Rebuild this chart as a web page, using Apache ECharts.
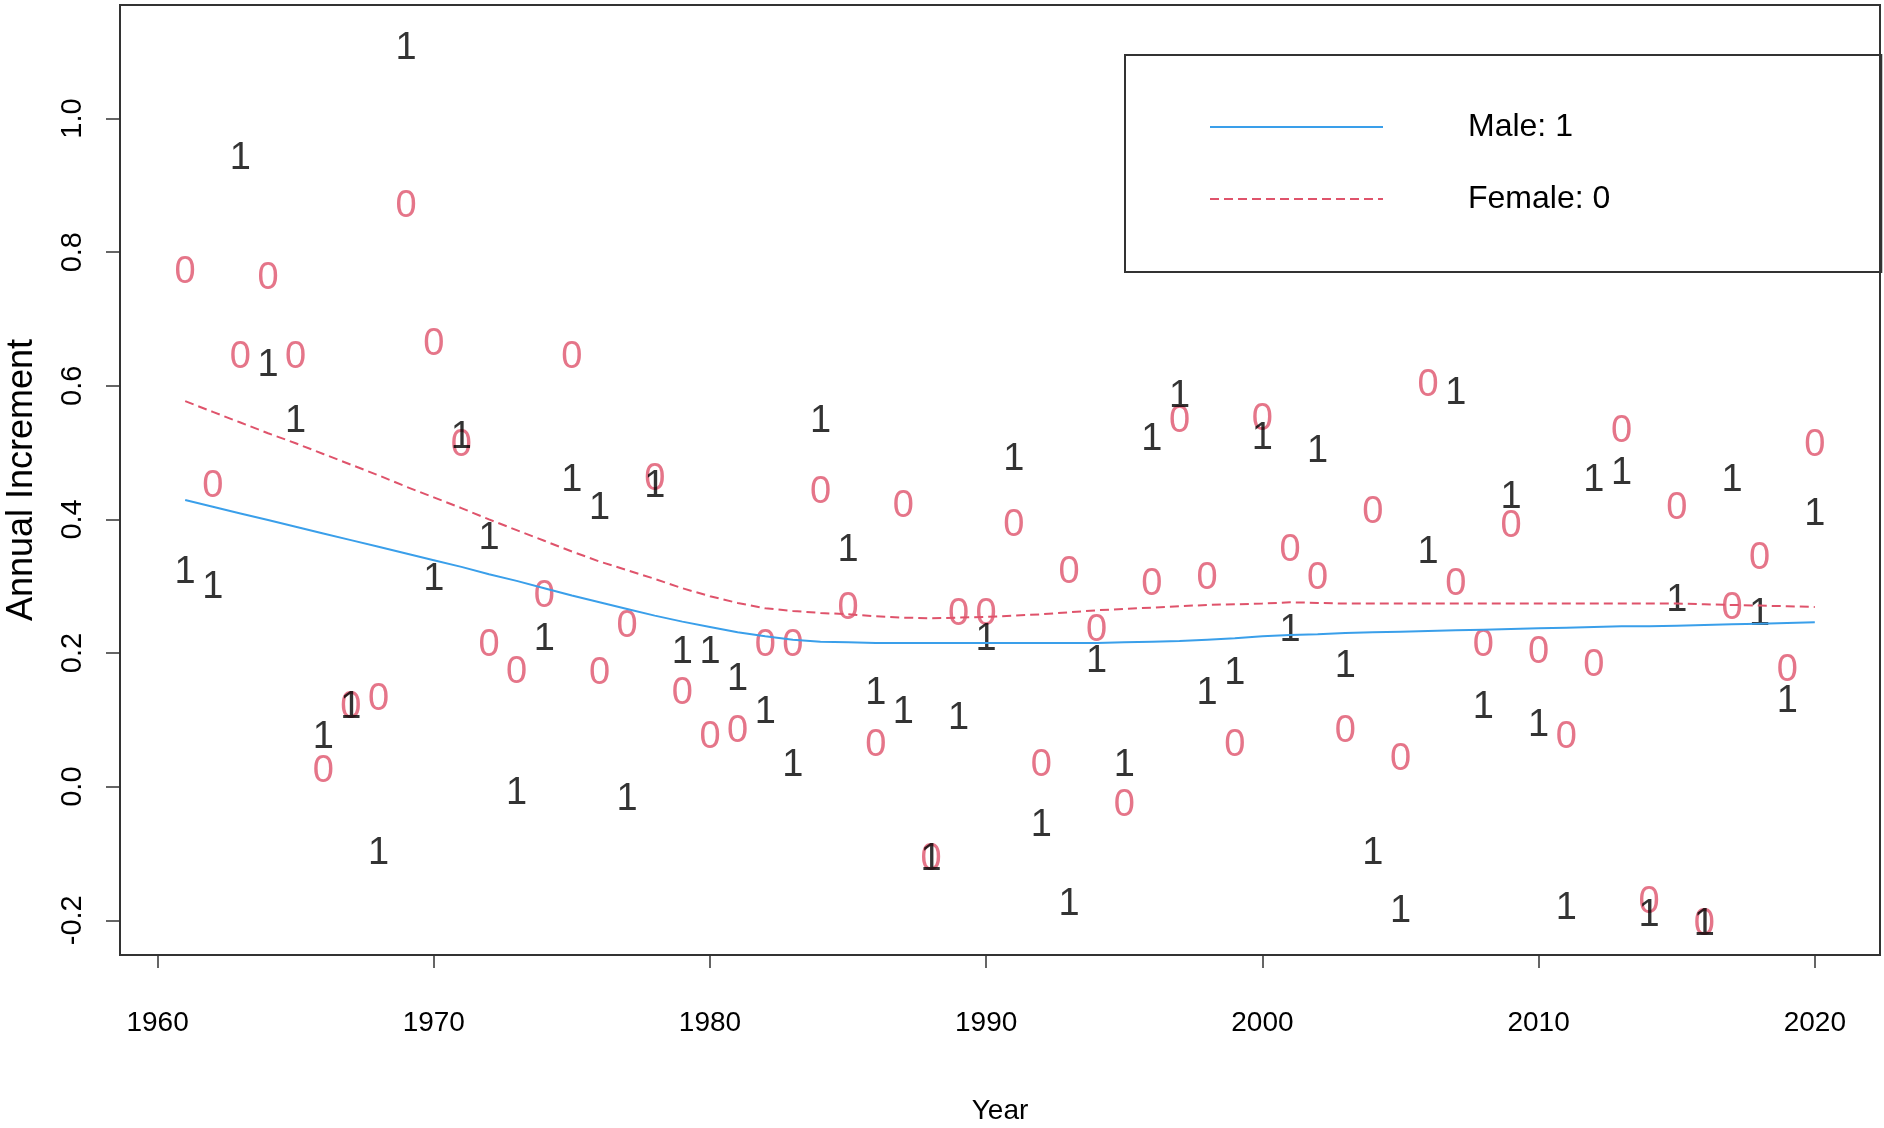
<!DOCTYPE html>
<html>
<head>
<meta charset="utf-8">
<title>Annual Increment by Year</title>
<script src="https://cdn.jsdelivr.net/npm/echarts@6.0.0/dist/echarts.min.js"></script>
<style>
  html, body { margin: 0; padding: 0; background: #fff; }
  #chart { width: 1884px; height: 1128px; }
</style>
</head>
<body>
<div id="chart"></div>
<script>
// years 1961..2020
const years = [
  1961, 1962, 1963, 1964, 1965, 1966, 1967, 1968, 1969, 1970,
  1971, 1972, 1973, 1974, 1975, 1976, 1977, 1978, 1979, 1980,
  1981, 1982, 1983, 1984, 1985, 1986, 1987, 1988, 1989, 1990,
  1991, 1992, 1993, 1994, 1995, 1996, 1997, 1998, 1999, 2000,
  2001, 2002, 2003, 2004, 2005, 2006, 2007, 2008, 2009, 2010,
  2011, 2012, 2013, 2014, 2015, 2016, 2017, 2018, 2019, 2020
]

// observed annual increment, males ("1")
const maleValues = [
  0.327, 0.304, 0.946, 0.637, 0.553, 0.079, 0.125, -0.094, 1.111, 0.316,
  0.528, 0.377, -0.004, 0.226, 0.464, 0.423, -0.013, 0.455, 0.207, 0.207,
  0.166, 0.117, 0.038, 0.553, 0.359, 0.145, 0.117, -0.103, 0.108, 0.226,
  0.496, -0.052, -0.171, 0.194, 0.038, 0.526, 0.590, 0.145, 0.175, 0.527,
  0.239, 0.507, 0.186, -0.094, -0.181, 0.357, 0.595, 0.125, 0.439, 0.097,
  -0.176, 0.464, 0.475, -0.187, 0.285, -0.201, 0.464, 0.264, 0.134, 0.414
]

// observed annual increment, females ("0")
const femaleValues = [
  0.776, 0.455, 0.648, 0.767, 0.648, 0.028, 0.125, 0.136, 0.874, 0.668,
  0.517, 0.217, 0.177, 0.290, 0.648, 0.175, 0.246, 0.466, 0.145, 0.079,
  0.088, 0.217, 0.217, 0.446, 0.273, 0.067, 0.425, -0.103, 0.264, 0.264,
  0.397, 0.038, 0.327, 0.239, -0.022, 0.308, 0.553, 0.317, 0.067, 0.556,
  0.359, 0.317, 0.088, 0.416, 0.047, 0.606, 0.308, 0.217, 0.395, 0.207,
  0.079, 0.187, 0.538, -0.167, 0.423, -0.201, 0.273, 0.347, 0.180, 0.517
]

// smoothed curves
const maleFit = [
  0.429, 0.419, 0.409, 0.399, 0.389, 0.379, 0.369, 0.359, 0.349, 0.339,
  0.329, 0.318, 0.308, 0.297, 0.286, 0.276, 0.266, 0.256, 0.247, 0.239,
  0.231, 0.225, 0.220, 0.217, 0.216, 0.215, 0.215, 0.215, 0.215, 0.215,
  0.215, 0.215, 0.215, 0.215, 0.216, 0.217, 0.218, 0.220, 0.222, 0.225,
  0.227, 0.228, 0.230, 0.231, 0.232, 0.233, 0.234, 0.235, 0.236, 0.237,
  0.238, 0.239, 0.240, 0.240, 0.241, 0.242, 0.243, 0.244, 0.245, 0.246
]

const femaleFit = [
  0.577, 0.561, 0.545, 0.529, 0.514, 0.498, 0.482, 0.466, 0.449, 0.433,
  0.417, 0.400, 0.384, 0.368, 0.352, 0.337, 0.324, 0.311, 0.297, 0.285,
  0.275, 0.267, 0.263, 0.260, 0.258, 0.255, 0.253, 0.252, 0.253, 0.254,
  0.256, 0.258, 0.261, 0.264, 0.266, 0.268, 0.270, 0.272, 0.273, 0.274,
  0.276, 0.275, 0.274, 0.274, 0.274, 0.274, 0.274, 0.274, 0.274, 0.274,
  0.274, 0.274, 0.274, 0.274, 0.274, 0.273, 0.272, 0.271, 0.270, 0.269
]

const xTicks = [1960, 1970, 1980, 1990, 2000, 2010, 2020]
const yTicks = [-0.2, 0, 0.2, 0.4, 0.6, 0.8, 1.0]

const font = "'Liberation Sans', Arial, sans-serif"
const blue = '#3a9fea'
const red = '#df536b'

const pairs = (vals) => years.map((y, i) => [y, vals[i]])

function textPoints(name, vals, ch, color) {
  return {
    name: name,
    type: 'scatter',
    data: pairs(vals),
    symbolSize: 1,
    itemStyle: { color: 'rgba(0,0,0,0)' },
    label: {
      show: true,
      position: 'inside',
      offset: [0, 4],
      formatter: ch,
      color: color,
      fontFamily: font,
      fontSize: 38
    },
    emphasis: { disabled: true },
    silent: true
  }
}

const chart = echarts.init(document.getElementById('chart'))

chart.setOption({
  animation: false,
  grid: {
    left: 120,
    top: 5,
    right: 4,
    bottom: 173,
    show: true,
    borderColor: '#333',
    borderWidth: 2,
    outerBoundsMode: 'none'
  },
  legend: {
    orient: 'vertical',
    left: 1125,
    top: 55,
    padding: [56, 271, 57, 84],
    itemGap: 40,
    itemWidth: 173,
    itemHeight: 2,
    itemStyle: { opacity: 0 },
    borderColor: '#333',
    borderWidth: 2,
    data: ['Male: 1', 'Female: 0'],
    textStyle: {
      fontFamily: font,
      fontSize: 32,
      color: '#000',
      padding: [0, 0, 0, 80]
    }
  },
  xAxis: {
    type: 'value',
    min: 1958.64,
    max: 2022.36,
    name: 'Year',
    nameLocation: 'middle',
    nameGap: 142,
    nameTextStyle: { fontFamily: font, fontSize: 28, color: '#000' },
    axisLine: { show: true, onZero: false, lineStyle: { color: '#333', width: 2 } },
    splitLine: { show: false },
    axisTick: {
      show: true,
      inside: false,
      length: 13,
      lineStyle: { color: '#333', width: 1.5 },
      customValues: xTicks
    },
    axisLabel: {
      margin: 54,
      fontFamily: font,
      fontSize: 28,
      color: '#000',
      customValues: xTicks,
      formatter: (v) => String(v)
    }
  },
  yAxis: {
    type: 'value',
    min: -0.252,
    max: 1.17,
    name: 'Annual Increment',
    nameLocation: 'middle',
    nameGap: 80,
    nameRotate: 90,
    nameTextStyle: { fontFamily: font, fontSize: 36, color: '#000' },
    axisLine: { show: true, onZero: false, lineStyle: { color: '#333', width: 2 } },
    splitLine: { show: false },
    axisTick: {
      show: true,
      inside: false,
      length: 14,
      lineStyle: { color: '#333', width: 1.5 },
      customValues: yTicks
    },
    axisLabel: {
      rotate: 90,
      margin: 33,
      fontFamily: font,
      fontSize: 29,
      color: '#000',
      customValues: yTicks,
      formatter: (v) => v.toFixed(1)
    }
  },
  series: [
    textPoints('Female points', femaleValues, '0', red),
    textPoints('Male points', maleValues, '1', '#000'),
    {
      name: 'Male: 1',
      type: 'line',
      data: pairs(maleFit),
      showSymbol: false,
      symbol: 'none',
      color: blue,
      lineStyle: { color: blue, width: 2 },
      silent: true
    },
    {
      name: 'Female: 0',
      type: 'line',
      data: pairs(femaleFit),
      showSymbol: false,
      symbol: 'none',
      color: red,
      lineStyle: { color: red, width: 2, type: [9, 5] },
      silent: true
    }
  ]
})
</script>
</body>
</html>
